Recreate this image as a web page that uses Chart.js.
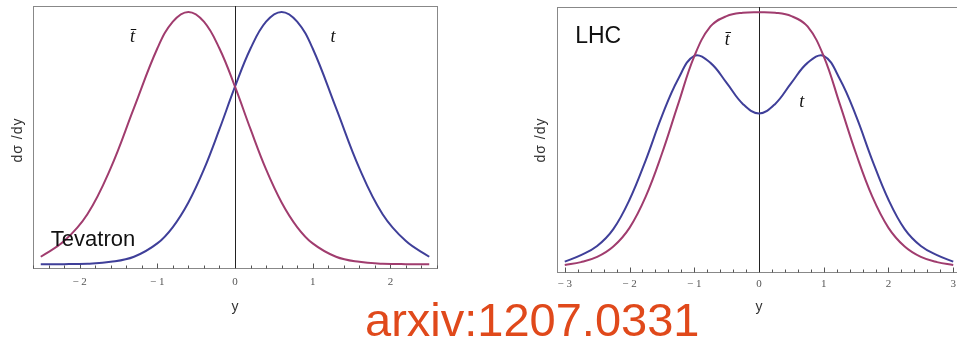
<!DOCTYPE html>
<html>
<head>
<meta charset="utf-8">
<script src="https://cdn.jsdelivr.net/npm/chart.js@4.4.1/dist/chart.umd.min.js"></script>
<style>
body{margin:0;width:957px;height:339px;overflow:hidden;background:#fff;position:relative;font-family:"Liberation Sans",Arial,sans-serif;}
.panel{position:absolute;top:0;height:339px;}
#p1{left:0;width:480px;}
#p2{left:480px;width:490px;}
.ylab{position:absolute;width:70px;height:16px;line-height:16px;text-align:center;font-size:14px;color:#333;transform:rotate(-90deg);white-space:nowrap;letter-spacing:1px;}
#ylab1{left:-18px;top:132px;}
#ylab2{left:505px;top:132px;}
#source{position:absolute;left:365px;top:296px;font-size:47px;line-height:47px;color:#e0491b;white-space:nowrap;}
</style>
</head>
<body>
<div class="panel" id="p1"><canvas id="chartTev" width="480" height="339"></canvas></div>
<div class="panel" id="p2"><canvas id="chartLhc" width="490" height="339"></canvas></div>
<div class="ylab" id="ylab1">dσ /dy</div>
<div class="ylab" id="ylab2">dσ /dy</div>
<div id="source">arxiv:1207.0331</div>
<script>
// ===== DATA: Tevatron =====
const yTev = [-2.5, -2.2, -1.9, -1.6, -1.3, -1.0, -0.8, -0.6, -0.4, -0.2, 0, 0.2, 0.4, 0.6, 0.8, 1.0, 1.3, 1.6, 1.9, 2.2, 2.5];
const tbarTev = [0.044, 0.105, 0.21, 0.39, 0.625, 0.857, 0.962, 1.0, 0.962, 0.857, 0.708, 0.542, 0.385, 0.256, 0.16, 0.096, 0.044, 0.024, 0.017, 0.015, 0.015];
const tTev = [0.015, 0.015, 0.017, 0.024, 0.044, 0.096, 0.16, 0.256, 0.385, 0.542, 0.708, 0.857, 0.962, 1.0, 0.962, 0.857, 0.625, 0.39, 0.21, 0.105, 0.044];
const ticksTev = [-2, -1, 0, 1, 2];

// ===== DATA: LHC =====
const yLhc = [-3, -2.75, -2.5, -2.25, -2, -1.75, -1.5, -1.25, -1, -0.75, -0.5, -0.25, 0, 0.25, 0.5, 0.75, 1, 1.25, 1.5, 1.75, 2, 2.25, 2.5, 2.75, 3];
const tLhc = [0.040, 0.065, 0.10, 0.165, 0.278, 0.43, 0.60, 0.742, 0.832, 0.805, 0.728, 0.647, 0.61, 0.647, 0.728, 0.805, 0.832, 0.742, 0.60, 0.43, 0.278, 0.165, 0.10, 0.065, 0.040];
const tbarLhc = [0.027, 0.038, 0.058, 0.098, 0.17, 0.29, 0.455, 0.645, 0.83, 0.945, 0.985, 0.998, 1.0, 0.998, 0.985, 0.945, 0.83, 0.645, 0.455, 0.29, 0.17, 0.098, 0.058, 0.038, 0.027];
const ticksLhc = [-3, -2, -1, 0, 1, 2, 3];

const redCol = "#a03c6e";
const blueCol = "#3f3f99";

function pts(xs, ys){
    return xs.map((v, i) => ({ x: v, y: ys[i] }));
}

// ===== FRAME, ZERO LINE, INWARD TICKS, LABELS =====
const framePlugin = {
    id: 'frame',
    beforeDatasetsDraw(chart){
        const ctx = chart.ctx;
        const a = chart.chartArea;
        const x = chart.scales.x;
        ctx.save();
        ctx.lineWidth = 1;
        ctx.strokeStyle = "#888";
        ctx.strokeRect(Math.round(a.left) + 0.5, Math.round(a.top) + 0.5, Math.round(a.right - a.left), Math.round(a.bottom - a.top));

        // ticks pointing up from the bottom edge
        ctx.strokeStyle = "#555";
        const bottom = Math.round(a.bottom) + 0.5;
        for(let k = Math.ceil(x.min * 5); k <= Math.floor(x.max * 5); k++){
            const px = Math.round(x.getPixelForValue(k / 5)) + 0.5;
            const len = (k % 5 === 0) ? 5 : 3;
            ctx.beginPath();
            ctx.moveTo(px, bottom);
            ctx.lineTo(px, bottom - len);
            ctx.stroke();
        }

        // y = 0 line
        const x0 = Math.round(x.getPixelForValue(0)) + 0.5;
        ctx.strokeStyle = "#222";
        ctx.beginPath();
        ctx.moveTo(x0, a.top);
        ctx.lineTo(x0, a.bottom);
        ctx.stroke();
        ctx.restore();
    },
    afterDatasetsDraw(chart, args, opts){
        const ctx = chart.ctx;
        const x = chart.scales.x, y = chart.scales.y;
        ctx.save();
        (opts.labels || []).forEach(l => {
            ctx.font = l.font;
            ctx.fillStyle = "#111";
            ctx.textAlign = l.align || "center";
            ctx.textBaseline = "middle";
            ctx.fillText(l.text, x.getPixelForValue(l.x), y.getPixelForValue(l.y));
        });
        ctx.restore();
    }
};

function makeChart(id, xs, red, blue, tickVals, xmin, xmax, ymax, pad, axisH, tickPad, labels){
    return new Chart(document.getElementById(id), {
        type: 'line',
        data: {
            datasets: [
                { data: pts(xs, red), borderColor: redCol, borderWidth: 2, pointRadius: 0, tension: 0.4, fill: false },
                { data: pts(xs, blue), borderColor: blueCol, borderWidth: 2, pointRadius: 0, tension: 0.4, fill: false }
            ]
        },
        options: {
            responsive: false,
            animation: false,
            devicePixelRatio: 1,
            layout: { padding: pad },
            plugins: { legend: { display: false }, tooltip: { enabled: false }, frame: { labels: labels } },
            scales: {
                x: {
                    type: 'linear',
                    min: xmin,
                    max: xmax,
                    afterBuildTicks: s => { s.ticks = tickVals.map(v => ({ value: v })); },
                    afterFit: s => { s.height = axisH; },
                    grid: { display: false, drawTicks: false },
                    border: { display: false },
                    ticks: {
                        autoSkip: false,
                        maxRotation: 0,
                        padding: tickPad,
                        color: "#555",
                        font: { family: "Liberation Serif", size: 11 },
                        callback: v => v < 0 ? "\u2212 " + Math.abs(v) : String(v)
                    },
                    title: {
                        display: true,
                        text: "y",
                        color: "#333",
                        font: { family: "Liberation Sans", size: 14 },
                        padding: { top: 4, bottom: 23.6 }
                    }
                },
                y: { display: false, min: 0, max: ymax }
            }
        },
        plugins: [framePlugin]
    });
}

const tFont = 'italic 18px "Liberation Serif"';

makeChart("chartTev", yTev, tbarTev, tTev, ticksTev, -2.6, 2.6, 1.023,
    { left: 33, right: 43, top: 6, bottom: 0 }, 71, 8,
    [
        { x: -1.32, y: 0.90, text: "t\u0304", font: tFont },
        { x: 1.26, y: 0.90, text: "t", font: tFont },
        { x: -2.37, y: 0.11, text: "Tevatron", font: '22px "Liberation Sans"', align: "left" }
    ]);

makeChart("chartLhc", yLhc, tbarLhc, tLhc, ticksLhc, -3.12, 3.12, 1.020,
    { left: 77, right: 9, top: 7, bottom: 0 }, 67, 6,
    [
        { x: -2.84, y: 0.905, text: "LHC", font: '23px "Liberation Sans"', align: "left" },
        { x: -0.49, y: 0.893, text: "t\u0304", font: tFont },
        { x: 0.66, y: 0.655, text: "t", font: tFont }
    ]);
</script>
</body>
</html>
